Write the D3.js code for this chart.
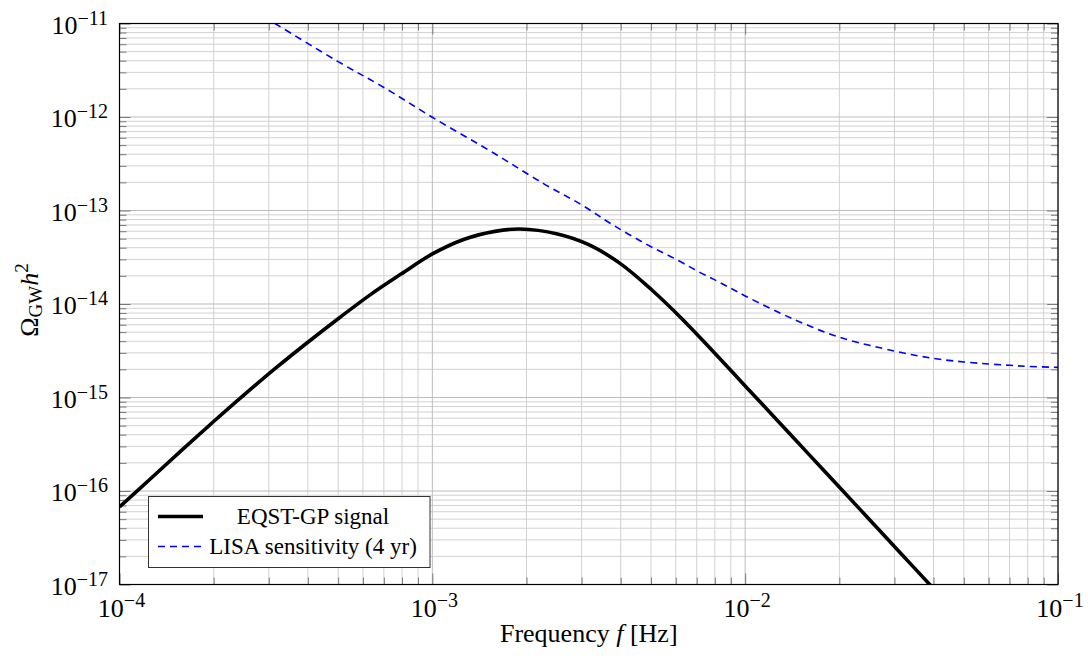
<!DOCTYPE html>
<html><head><meta charset="utf-8">
<script src="https://cdn.jsdelivr.net/npm/d3@7"></script>
<style>body{margin:0;background:#fff} text{font-family:"Liberation Serif","Times New Roman",serif;fill:#000}</style>
</head><body><svg id="c" width="1088" height="659"></svg>
<script>
// ---- data ----
const xMajorTicks = [1e-4, 1e-3, 1e-2, 1e-1];
const xTickExponents = ["−4", "−3", "−2", "−1"];
const yMajorTicks = [1e-17, 1e-16, 1e-15, 1e-14, 1e-13, 1e-12, 1e-11];
const yTickExponents = ["−17", "−16", "−15", "−14", "−13", "−12", "−11"];

const signalFreq = [1e-4, 1.259e-4, 1.585e-4, 1.995e-4, 2.512e-4, 3.162e-4, 3.981e-4, 5.012e-4, 6.31e-4, 7.943e-4, 1e-3, 1.259e-3, 1.585e-3, 1.9e-3, 2.512e-3, 3.162e-3, 3.981e-3, 5.012e-3, 6.31e-3, 7.943e-3, 1e-2, 1.259e-2, 1.585e-2, 1.995e-2, 2.512e-2, 3.162e-2, 3.981e-2, 5.012e-2];
const signalOmega = [6.76e-17, 1.36e-16, 2.75e-16, 5.50e-16, 1.08e-15, 2.07e-15, 3.85e-15, 7.00e-15, 1.245e-14, 2.09e-14, 3.43e-14, 4.90e-14, 5.98e-14, 6.34e-14, 5.62e-14, 4.32e-14, 2.72e-14, 1.43e-14, 6.84e-15, 3.05e-15, 1.33e-15, 5.82e-16, 2.54e-16, 1.11e-16, 4.84e-17, 2.11e-17, 9.2e-18, 4.03e-18];

const lisaFreq = [2.5e-4, 3.14e-4, 5e-4, 7e-4, 1e-3, 1.58e-3, 2.26e-3, 3e-3, 3.78e-3, 5e-3, 6e-3, 7e-3, 8e-3, 9e-3, 1e-2, 1.3e-2, 1.58e-2, 2e-2, 3e-2, 4e-2, 5e-2, 6e-2, 7e-2, 8e-2, 1e-1];
const lisaOmega = [1.58e-11, 1.0e-11, 3.91e-12, 2.07e-12, 9.93e-13, 4.07e-13, 1.95e-13, 1.15e-13, 7.0e-14, 4.10e-14, 3.02e-14, 2.27e-14, 1.81e-14, 1.47e-14, 1.22e-14, 7.94e-15, 5.96e-15, 4.41e-15, 3.14e-15, 2.62e-15, 2.40e-15, 2.28e-15, 2.21e-15, 2.15e-15, 2.10e-15];

const legendLabels = ["EQST-GP signal", "LISA sensitivity (4 yr)"];
const xAxisTitle = "Frequency ";
const yAxisTitle = ["Ω", "GW", "h", "2"];

// ---- layout ----
const L = 119.5, R = 1058, T = 23.5, B = 584.5;
const svg = d3.select("#c");
const x = d3.scaleLog().domain([1e-4, 1e-1]).range([L, R]);
const y = d3.scaleLog().domain([1e-17, 1e-11]).range([B, T]);

function minorsOf(majors){
  const out = [];
  for (let i = 0; i < majors.length - 1; i++)
    for (let k = 2; k <= 9; k++) out.push(majors[i] * k);
  return out;
}
const xMinor = minorsOf(xMajorTicks), yMinor = minorsOf(yMajorTicks);

// grid
const grid = svg.append("g");
grid.selectAll(".gxm").data(xMinor).join("line")
  .attr("x1", d => x(d)).attr("x2", d => x(d)).attr("y1", T).attr("y2", B)
  .attr("stroke", "#d2d2d2").attr("stroke-width", 1);
grid.selectAll(".gym").data(yMinor).join("line")
  .attr("y1", d => y(d)).attr("y2", d => y(d)).attr("x1", L).attr("x2", R)
  .attr("stroke", "#d2d2d2").attr("stroke-width", 1);
grid.selectAll(".gxM").data(xMajorTicks).join("line")
  .attr("x1", d => x(d)).attr("x2", d => x(d)).attr("y1", T).attr("y2", B)
  .attr("stroke", "#bcbcbc").attr("stroke-width", 1);
grid.selectAll(".gyM").data(yMajorTicks).join("line")
  .attr("y1", d => y(d)).attr("y2", d => y(d)).attr("x1", L).attr("x2", R)
  .attr("stroke", "#bcbcbc").attr("stroke-width", 1);

// ticks via d3 axes (inside)
function tickAxis(axisFn, scale, vals, size, tr){
  const g = svg.append("g").attr("transform", tr)
    .call(axisFn(scale).tickValues(vals).tickSize(size).tickFormat(""));
  g.select(".domain").remove();
  g.selectAll("line").attr("stroke", "#7a7a7a").attr("stroke-width", 1);
}
tickAxis(d3.axisBottom, x, xMajorTicks, -11, `translate(0,${B})`);
tickAxis(d3.axisBottom, x, xMinor, -7, `translate(0,${B})`);
tickAxis(d3.axisTop, x, xMajorTicks, -11, `translate(0,${T})`);
tickAxis(d3.axisTop, x, xMinor, -7, `translate(0,${T})`);
tickAxis(d3.axisLeft, y, yMajorTicks, -11, `translate(${L},0)`);
tickAxis(d3.axisLeft, y, yMinor, -7, `translate(${L},0)`);
tickAxis(d3.axisRight, y, yMajorTicks, -11, `translate(${R},0)`);
tickAxis(d3.axisRight, y, yMinor, -7, `translate(${R},0)`);

// curves
svg.append("clipPath").attr("id", "clip").append("rect")
  .attr("x", L).attr("y", T).attr("width", R - L).attr("height", B - T);
const line = d3.line().x(d => x(d[0])).y(d => y(d[1])).curve(d3.curveCatmullRom.alpha(0.5));
svg.append("path").attr("clip-path", "url(#clip)")
  .attr("d", line(lisaFreq.map((f, i) => [f, lisaOmega[i]])))
  .attr("fill", "none").attr("stroke", "#0000ff").attr("stroke-width", 1.6)
  .attr("stroke-dasharray", "7,5");
svg.append("path").attr("clip-path", "url(#clip)")
  .attr("d", line(signalFreq.map((f, i) => [f, signalOmega[i]])))
  .attr("fill", "none").attr("stroke", "#000").attr("stroke-width", 3.6)
  .attr("stroke-linejoin", "round");

// frame
svg.append("rect").attr("x", L).attr("y", T).attr("width", R - L).attr("height", B - T)
  .attr("fill", "none").attr("stroke", "#000").attr("stroke-width", 1.2);

// tick labels
const fs = 26, sfs = 20;
xMajorTicks.forEach((v, i) => {
  const t = svg.append("text").attr("x", x(v) + 2).attr("y", 617).attr("text-anchor", "middle").attr("font-size", fs);
  t.append("tspan").text("10");
  t.append("tspan").attr("font-size", sfs).attr("dy", -10).text(xTickExponents[i]);
});
yMajorTicks.forEach((v, i) => {
  const t = svg.append("text").attr("x", 108).attr("y", y(v) + 10).attr("text-anchor", "end").attr("font-size", fs);
  t.append("tspan").text("10");
  t.append("tspan").attr("font-size", sfs).attr("dy", -9).text(yTickExponents[i]);
});

// axis titles
const xt = svg.append("text").attr("x", (L + R) / 2).attr("y", 642).attr("text-anchor", "middle").attr("font-size", fs);
xt.append("tspan").text(xAxisTitle);
xt.append("tspan").attr("font-style", "italic").text("f");
xt.append("tspan").text(" [Hz]");

const yt = svg.append("text").attr("transform", `translate(38,${(T + B) / 2 - 4}) rotate(-90)`)
  .attr("text-anchor", "middle").attr("font-size", fs);
yt.append("tspan").text(yAxisTitle[0]);
yt.append("tspan").attr("font-size", 19).attr("dy", 4).text(yAxisTitle[1]);
yt.append("tspan").attr("font-style", "italic").attr("dy", -4).text(yAxisTitle[2]);
yt.append("tspan").attr("font-size", 19).attr("dy", -10).text(yAxisTitle[3]);

// legend
const lg = svg.append("g");
lg.append("rect").attr("x", 148.5).attr("y", 496.5).attr("width", 281.5).attr("height", 71)
  .attr("fill", "#fff").attr("stroke", "#333").attr("stroke-width", 1);
lg.append("line").attr("x1", 158).attr("x2", 203).attr("y1", 516.5).attr("y2", 516.5)
  .attr("stroke", "#000").attr("stroke-width", 3.6);
lg.append("line").attr("x1", 158).attr("x2", 203).attr("y1", 546.5).attr("y2", 546.5)
  .attr("stroke", "#0000ff").attr("stroke-width", 1.6).attr("stroke-dasharray", "7,5");
legendLabels.forEach((s, i) => {
  lg.append("text").attr("x", 313).attr("y", 524 + i * 30).attr("text-anchor", "middle")
    .attr("font-size", 23).text(s);
});
</script></body></html>
